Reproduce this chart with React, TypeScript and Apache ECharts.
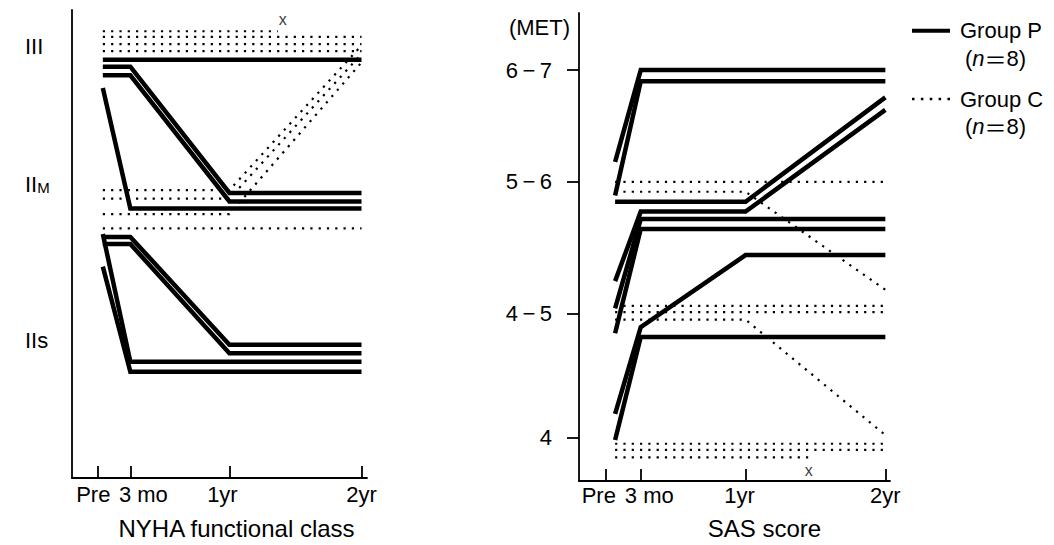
import { useEffect, useRef } from 'react';
import * as echarts from 'echarts';

// ---- data ----
const TIME_TICKS = [0, 3, 12, 24]; // months
const TIME_LABELS = ['Pre', '3 mo', '1yr', '2yr'];

const NYHA_TICKS = [0.97, 2.07, 3.04];
const NYHA_LABELS = ['IIs', 'IIM', 'III'];

const SAS_TICKS = [0, 1, 2.06, 2.96];
const SAS_LABELS = ['4', '4\u2009\u2212\u20095', '5\u2009\u2212\u20096', '6\u2009\u2212\u20097'];

// NYHA functional class, one line per patient: [month, class level]
const NYHA_GROUP_P = [
  [[0.5, 2.95], [3, 2.95], [12, 2.95], [24, 2.95]],
  [[0.5, 2.9], [3, 2.9], [12, 2.01], [24, 2.01]],
  [[0.5, 2.84], [3, 2.84], [12, 1.95], [24, 1.95]],
  [[0.5, 2.75], [3, 1.9], [12, 1.9], [24, 1.9]],
  [[0.5, 1.7], [3, 1.7], [12, 0.94], [24, 0.94]],
  [[0.5, 1.65], [3, 1.65], [12, 0.88], [24, 0.88]],
  [[0.5, 1.72], [3, 0.82], [12, 0.82], [24, 0.82]],
  [[0.5, 1.49], [3, 0.75], [12, 0.75], [24, 0.75]],
];
const NYHA_GROUP_C = [
  [[0.5, 3.15], [3, 3.15], [12, 3.15], [16.4, 3.15]],
  [[0.5, 3.11], [3, 3.11], [12, 3.11], [24, 3.11]],
  [[0.5, 3.06], [3, 3.06], [12, 3.06], [24, 3.06]],
  [[0.5, 3.01], [3, 3.01], [12, 3.01], [24, 3.01]],
  [[0.5, 2.03], [3, 2.03], [12, 2.03], [24, 3.05]],
  [[0.5, 1.97], [3, 1.97], [12, 1.97], [24, 2.99]],
  [[0.5, 1.86], [3, 1.86], [12, 1.86], [24, 2.93]],
  [[0.5, 1.76], [3, 1.76], [12, 1.76], [24, 1.76]],
];
const NYHA_DROPOUT = [[16.4, 3.15]];

// SAS score (MET level), one line per patient: [month, level]
const SAS_GROUP_P = [
  [[0.8, 2.22], [3, 2.96], [12, 2.96], [24, 2.96]],
  [[0.8, 1.95], [3, 2.87], [12, 2.87], [24, 2.87]],
  [[0.8, 1.9], [3, 1.9], [12, 1.9], [24, 2.74]],
  [[0.8, 1.26], [3, 1.82], [12, 1.82], [24, 2.64]],
  [[0.8, 1.04], [3, 1.76], [12, 1.76], [24, 1.76]],
  [[0.8, 0.84], [3, 1.68], [12, 1.68], [24, 1.68]],
  [[0.8, 0.19], [3, 0.89], [12, 1.47], [24, 1.47]],
  [[0.8, -0.02], [3, 0.81], [12, 0.81], [24, 0.81]],
];
const SAS_GROUP_C = [
  [[0.8, 2.06], [3, 2.06], [12, 2.06], [24, 2.06]],
  [[0.8, 1.98], [3, 1.98], [12, 1.98], [24, 1.19]],
  [[0.8, 1.06], [3, 1.06], [12, 1.06], [24, 1.06]],
  [[0.8, 1.01], [3, 1.01], [12, 1.01], [24, 1.01]],
  [[0.8, 0.95], [3, 0.95], [12, 0.95], [24, 0.02]],
  [[0.8, -0.05], [3, -0.05], [12, -0.05], [24, -0.05]],
  [[0.8, -0.1], [3, -0.1], [12, -0.1], [24, -0.1]],
  [[0.8, -0.16], [3, -0.16], [12, -0.16], [17.5, -0.16]],
];
const SAS_DROPOUT = [[17.5, -0.16]];

// ---- styling ----
const FONT = '"Liberation Sans", Arial, Helvetica, sans-serif';
const BLACK = '#000';
const AXIS_LINE = { color: BLACK, width: 1.8 };

function nearestIndex(arr: number[], v: number) {
  let best = 0;
  for (let i = 1; i < arr.length; i++) if (Math.abs(arr[i] - v) < Math.abs(arr[best] - v)) best = i;
  return best;
}

function timeRich(shifts: number[]) {
  const rich: Record<string, any> = {};
  shifts.forEach((s, i) => {
    rich['t' + i] = {
      fontFamily: FONT,
      fontSize: 22,
      color: BLACK,
      padding: s >= 0 ? [0, 0, 0, 2 * s] : [0, -2 * s, 0, 0],
    };
  });
  return rich;
}
const timeFormatter = (v: number) => {
  const i = nearestIndex(TIME_TICKS, v);
  return `{t${i}|${TIME_LABELS[i]}}`;
};

function xAxisDef(grid: number, min: number, max: number, name: string, nameGap: number, namePad: number, shifts: number[], margin: number) {
  return {
    gridIndex: grid,
    type: 'value',
    min,
    max,
    axisLine: { show: true, onZero: false, lineStyle: AXIS_LINE },
    axisTick: { show: true, inside: true, length: 12, customValues: TIME_TICKS, lineStyle: AXIS_LINE },
    axisLabel: {
      customValues: TIME_TICKS,
      formatter: timeFormatter,
      rich: timeRich(shifts),
      margin,
      color: BLACK,
      fontFamily: FONT,
      fontSize: 22,
    },
    splitLine: { show: false },
    name,
    nameLocation: 'middle',
    nameGap,
    nameTextStyle: { fontFamily: FONT, fontSize: 24, color: BLACK, padding: [0, 0, 0, namePad] },
  };
}

function lineSeries(lines: number[][][], name: string, axis: number, thick: boolean) {
  return lines.map((data) => ({
    type: 'line',
    name,
    xAxisIndex: axis,
    yAxisIndex: axis,
    data,
    showSymbol: false,
    symbol: 'none',
    silent: true,
    z: thick ? 3 : 2,
    color: BLACK,
    emphasis: { disabled: true },
    lineStyle: thick
      ? { color: BLACK, width: 4.5, type: 'solid', join: 'miter', cap: 'butt' }
      : { color: BLACK, width: 2.2, type: [2.2, 6.1], cap: 'butt' },
  }));
}

function dropoutSeries(data: number[][], axis: number, position: string, distance: number, dx: number) {
  return {
    type: 'scatter',
    xAxisIndex: axis,
    yAxisIndex: axis,
    data,
    symbolSize: 1,
    silent: true,
    itemStyle: { color: 'rgba(0,0,0,0)' },
    label: {
      show: true,
      formatter: 'x',
      position,
      distance,
      offset: [dx, 0],
      color: BLACK,
      fontFamily: FONT,
      fontSize: 16,
    },
  };
}

const option: any = {
  animation: false,
  backgroundColor: '#fff',
  grid: [
    { left: 72, top: 10, width: 295, height: 471 },
    { left: 579, top: 13, width: 311, height: 471 },
  ],
  xAxis: [
    xAxisDef(0, -2.3, 24.5, 'NYHA functional class', 38, 34, [-4, 13, -7, 0], 5),
    xAxisDef(1, -2.3, 24.4, 'SAS score', 35, 60, [-7, 8.5, -6, 0], 3),
  ],
  yAxis: [
    {
      gridIndex: 0,
      type: 'value',
      min: 0,
      max: 3.3,
      axisLine: { show: true, onZero: false, lineStyle: AXIS_LINE },
      axisTick: { show: false },
      splitLine: { show: false },
      axisLabel: {
        customValues: NYHA_TICKS,
        align: 'left',
        margin: 47,
        color: BLACK,
        fontFamily: FONT,
        fontSize: 22,
        formatter: (v: number) => {
          const t = NYHA_LABELS[nearestIndex(NYHA_TICKS, v)];
          return t === 'IIM' ? 'II{m|M}' : t;
        },
        rich: {
          m: { fontFamily: FONT, fontSize: 15, color: BLACK, verticalAlign: 'bottom' },
        },
      },
    },
    {
      gridIndex: 1,
      type: 'value',
      min: -0.35,
      max: 3.42,
      axisLine: { show: true, onZero: false, lineStyle: AXIS_LINE },
      axisTick: { show: true, inside: false, length: 12, customValues: SAS_TICKS, lineStyle: AXIS_LINE },
      splitLine: { show: false },
      axisLabel: {
        customValues: SAS_TICKS,
        margin: 27,
        color: BLACK,
        fontFamily: FONT,
        fontSize: 22,
        formatter: (v: number) => SAS_LABELS[nearestIndex(SAS_TICKS, v)],
      },
      name: '(MET)',
      nameLocation: 'end',
      nameGap: -14,
      nameTextStyle: { fontFamily: FONT, fontSize: 22, color: BLACK, align: 'right', verticalAlign: 'middle', padding: [0, 9, 0, 0] },
    },
  ],
  legend: {
    orient: 'vertical',
    left: 912,
    top: 19.7,
    padding: 0,
    itemGap: 46.3,
    itemWidth: 38,
    itemHeight: 4,
    symbolKeepAspect: true,
    selectedMode: false,
    itemStyle: { borderWidth: 0 },
    textStyle: { fontFamily: FONT, fontSize: 22, color: BLACK, lineHeight: 22, padding: [0, 0, 0, 5] },
    data: [
      { name: 'Group P', icon: 'rect' },
      { name: 'Group C', icon: 'path://M0 0h2v2H0zM7 0h2v2H7zM14 0h2v2h-2zM21 0h2v2h-2zM28 0h2v2h-2z' },
    ],
  },
  graphic: [0, 1].map((k) => ({
    type: 'text',
    x: 965,
    y: k === 0 ? 58 : 126,
    silent: true,
    style: {
      text: '{p|(}{i|n}{q|\uFF1D}{p|8)}',
      verticalAlign: 'middle',
      rich: {
        p: { fontFamily: FONT, fontSize: 22, lineHeight: 22, fill: BLACK, color: BLACK },
        i: { fontFamily: FONT, fontSize: 22, lineHeight: 22, fontStyle: 'italic', fill: BLACK, color: BLACK },
        q: { fontFamily: '"Noto Sans CJK JP", sans-serif', fontSize: 22, lineHeight: 22, fill: BLACK, color: BLACK },
      },
    },
  })),
  series: [
    ...lineSeries(NYHA_GROUP_C, 'Group C', 0, false),
    ...lineSeries(SAS_GROUP_C, 'Group C', 1, false),
    ...lineSeries(NYHA_GROUP_P, 'Group P', 0, true),
    ...lineSeries(SAS_GROUP_P, 'Group P', 1, true),
    dropoutSeries(NYHA_DROPOUT, 0, 'top', 3, 5),
    dropoutSeries(SAS_DROPOUT, 1, 'bottom', 4.5, -1),
  ],
};

export default function App() {
  const ref = useRef<HTMLDivElement>(null);
  useEffect(() => {
    if (!ref.current) return;
    const chart = echarts.init(ref.current, undefined, { renderer: 'svg' });
    chart.setOption(option);
    return () => chart.dispose();
  }, []);
  return (
    <div
      ref={ref}
      style={{ position: 'fixed', left: 0, top: 0, width: 1054, height: 545, background: '#fff' }}
    />
  );
}
